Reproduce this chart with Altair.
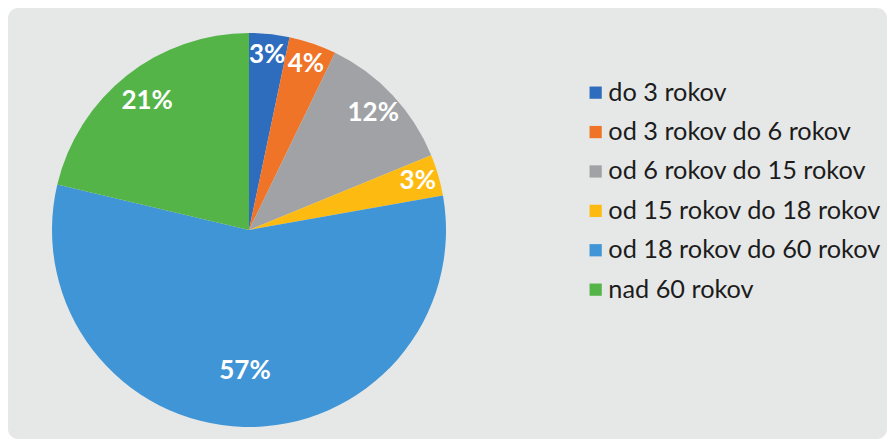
import altair as alt
import pandas as pd

categories = ["do 3 rokov", "od 3 rokov do 6 rokov", "od 6 rokov do 15 rokov",
              "od 15 rokov do 18 rokov", "od 18 rokov do 60 rokov", "nad 60 rokov"]
shares = [3.3, 3.9, 11.6, 3.4, 56.5, 21.3]
labels = ["3%", "4%", "12%", "3%", "57%", "21%"]
colors = ["#2e6dbd", "#f07427", "#a0a2a5", "#fdbb12", "#3f95d5", "#55b448"]

df = pd.DataFrame({"cat": categories, "share": shares, "label": labels,
                   "idx": list(range(len(categories)))})

CX, CY, R = 241, 222, 197
theta_scale = alt.Scale(domain=[0, 100])

pie = alt.Chart(df).mark_arc(radius=R, stroke=None).encode(
    theta=alt.Theta("share:Q", stack=True, scale=theta_scale),
    order=alt.Order("idx:Q"),
    x=alt.value(CX), y=alt.value(CY),
    color=alt.Color("cat:N", scale=alt.Scale(domain=categories, range=colors),
                    sort=categories,
                    legend=alt.Legend(orient="none", legendX=575, legendY=72,
                                      title=None, symbolType="square",
                                      symbolSize=150, symbolStrokeWidth=0,
                                      labelFont="Lato", labelFontSize=25.3,
                                      labelColor="#1c1c1c", labelOffset=0,
                                      rowPadding=13.4, labelLimit=400)),
)

text = alt.Chart(df).transform_window(
    cum="sum(share)", sort=[alt.SortField("idx")]
).transform_calculate(
    mid="datum.cum - datum.share / 2",
    r="178 - 0.65 * datum.share",
).mark_text(
    font="Lato", fontSize=26, fontWeight="bold", color="white",
    align="center", baseline="middle"
).encode(
    theta=alt.Theta("mid:Q", stack=None, scale=theta_scale),
    x=alt.value(CX), y=alt.value(CY),
    radius=alt.Radius("r:Q", scale=None),
    text="label:N",
)

chart = alt.layer(pie, text).properties(
    width=879, height=431, padding=0, autosize="none", background="white"
).configure_view(fill="#e6e8e8", stroke=None, cornerRadius=10)

chart.save("out.html", embed_options={"renderer": "svg", "actions": False})
